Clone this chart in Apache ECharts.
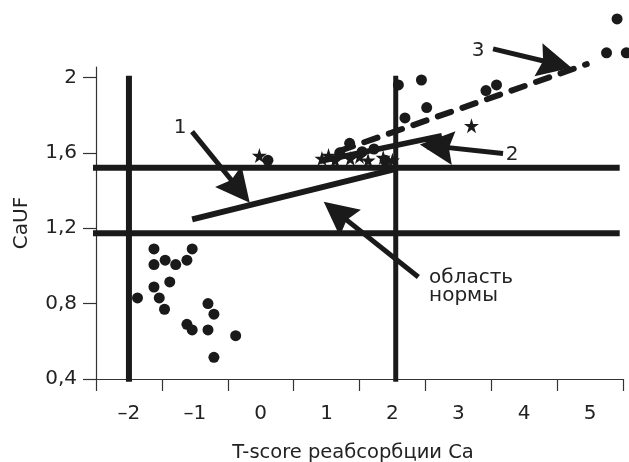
<!DOCTYPE html>
<html><head><meta charset="utf-8">
<script src="https://cdn.jsdelivr.net/npm/echarts@6/dist/echarts.min.js"></script>
<style>html,body{margin:0;padding:0;background:#fff}#c{width:629px;height:462px}</style>
</head><body><div id="c"></div>
<script>
// axis ticks and labels
const xTicks = [-2.5, -1.5, -0.5, 0.5, 1.5, 2.5, 3.5, 4.5, 5.5];
const xLabels = [-2, -1, 0, 1, 2, 3, 4, 5];
const yTicks = [0.4, 0.8, 1.2, 1.6, 2.0];

// circles
const dots = [
  [-1.62, 1.09], [-1.04, 1.09], [-1.62, 1.007], [-1.45, 1.03], [-1.29, 1.007],
  [-1.12, 1.03], [-1.38, 0.915], [-1.62, 0.888], [-1.87, 0.83], [-1.54, 0.83],
  [-1.46, 0.77], [-0.80, 0.80], [-0.71, 0.744], [-1.12, 0.69], [-1.04, 0.66],
  [-0.80, 0.66], [-0.38, 0.63], [-0.71, 0.515],
  [0.11, 1.56], [1.35, 1.65], [1.2, 1.60], [1.54, 1.606], [1.72, 1.62], [1.89, 1.56],
  [2.09, 1.96], [2.44, 1.986], [2.52, 1.84], [2.19, 1.785], [3.42, 1.93], [3.58, 1.96],
  [5.25, 2.13], [5.55, 2.13], [5.41, 2.31]
];
// stars
const stars = [
  [-0.02, 1.585], [0.93, 1.57], [1.03, 1.585], [1.13, 1.56], [1.36, 1.57],
  [1.5, 1.58], [1.63, 1.56], [1.86, 1.575], [2.0, 1.56], [2.59, 1.655], [3.2, 1.744]
];
// regression / reference lines
const line1 = [[-1.04, 1.247], [2.07, 1.516]];
const line2 = [[0.9, 1.555], [2.75, 1.69]];
const line3 = [[1.2, 1.61], [4.95, 2.07]];
const hLineUpper = [[-2.6, 1.52], [5.45, 1.52]];
const hLineLower = [[-2.6, 1.1725], [5.45, 1.1725]];
const vLineLeft = [[-2, 0.385], [-2, 2.008]];
const vLineRight = [[2.05, 0.385], [2.05, 2.008]];
// annotation arrows: [tail, tip]
const arrows = [
  [[-1.042, 1.712], [-0.329, 1.405]],
  [[3.679, 1.596], [2.672, 1.634]],
  [[3.527, 2.151], [4.468, 2.072]],
  [[2.393, 0.941], [1.159, 1.284]]
];
// annotation texts
const noteTexts = ['1', '2', '3', 'область\nнормы'];
const notePos = [[-1.224, 1.733], [3.815, 1.59], [3.3, 2.14], [2.556, 0.89]];

const ink = '#1a1a1a';
const axisColor = '#333';
const font = '"DejaVu Sans", "Liberation Sans", Arial, sans-serif';

const chart = echarts.init(document.getElementById('c'));
const lineSeries = (data, extra) => Object.assign({
  type: 'line', data: data, symbol: 'none', clip: false, silent: true,
  lineStyle: { color: ink, width: 6, cap: 'butt' }, z: 3
}, extra || {});

chart.setOption({
  animation: false,
  backgroundColor: '#fff',
  grid: { left: 96, right: 6, top: 67, bottom: 83, outerBoundsMode: 'none', containLabel: false },
  xAxis: {
    type: 'value', min: -2.5, max: 5.5,
    name: 'T-score реабсорбции Ca', nameLocation: 'middle', nameGap: 64,
    nameTextStyle: { fontSize: 19.5, color: '#222', fontFamily: font, padding: [0, 13, 0, 0] },
    axisLine: { show: true, onZero: false, lineStyle: { color: axisColor, width: 1.2 } },
    axisTick: { show: true, length: 12, customValues: xTicks, lineStyle: { color: axisColor, width: 1.2 } },
    axisLabel: { customValues: xLabels, margin: 25, fontSize: 20, color: '#222', fontFamily: font,
      formatter: v => (v < 0 ? '\u2013' + Math.abs(v) : String(v)) },
    splitLine: { show: false }
  },
  yAxis: {
    type: 'value', min: 0.4, max: 2.055,
    name: 'CaUF', nameLocation: 'middle', nameGap: 64, nameRotate: 90,
    nameTextStyle: { fontSize: 20, color: '#222', fontFamily: font },
    axisLine: { show: true, onZero: false, lineStyle: { color: axisColor, width: 1.2 } },
    axisTick: { show: true, length: 13, customValues: yTicks, lineStyle: { color: axisColor, width: 1.2 } },
    axisLabel: { customValues: yTicks, margin: 19, fontSize: 20, color: '#222', fontFamily: font,
      formatter: v => String(+v.toFixed(2)).replace('.', ',') },
    splitLine: { show: false }
  },
  series: [
    lineSeries(hLineUpper),
    lineSeries(hLineLower),
    lineSeries(vLineLeft),
    lineSeries(vLineRight, { lineStyle: { color: ink, width: 5 } }),
    lineSeries(line1),
    lineSeries(line2, { lineStyle: { color: ink, width: 5.5 } }),
    lineSeries(line3, { lineStyle: { color: ink, width: 6, type: [14, 12], cap: 'round' } }),
    { type: 'scatter', data: dots, symbol: 'circle', symbolSize: 11, clip: false,
      itemStyle: { color: ink, opacity: 1 }, z: 4 },
    { type: 'scatter', data: stars, clip: false, z: 4,
      symbol: 'path://M50,0 L61,35 L98,35 L68,57 L79,91 L50,70 L21,91 L32,57 L2,35 L39,35 Z',
      symbolSize: 15, itemStyle: { color: ink, opacity: 1 } },
    { type: 'lines', coordinateSystem: 'cartesian2d', z: 5, silent: true, clip: false,
      data: arrows.map(a => ({ coords: a })),
      symbol: ['none', 'path://M50,0 L100,100 L50,86 L0,100 Z'], symbolSize: [26, 34],
      lineStyle: { color: ink, width: 5, opacity: 1, curveness: 0 } }
  ]
});

const g = noteTexts.map((t, i) => {
  const p = chart.convertToPixel({ gridIndex: 0 }, notePos[i]);
  const multi = t.indexOf('\n') >= 0;
  return { type: 'text', x: p[0], y: p[1], z: 10,
    style: { text: t, fontSize: 20, fill: '#222', fontFamily: font, lineHeight: 18,
      align: multi ? 'left' : 'center', verticalAlign: 'middle' } };
});
chart.setOption({ graphic: g });
</script></body></html>
